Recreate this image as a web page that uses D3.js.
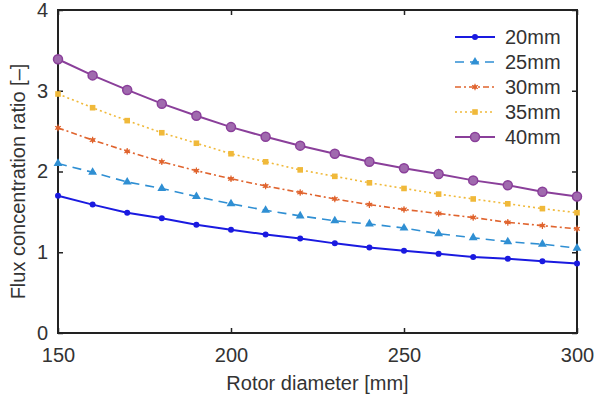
<!DOCTYPE html>
<html>
<head>
<meta charset="utf-8">
<script src="https://cdn.jsdelivr.net/npm/d3@7"></script>
<style>
  body { margin: 0; background: #fff; }
  text { font-family: "Liberation Sans", Arial, sans-serif; fill: #333; }
</style>
</head>
<body>
<div id="chart"></div>
<script>
// data
var diameters = [150, 160, 170, 180, 190, 200, 210, 220, 230, 240, 250, 260, 270, 280, 290, 300];
var series = ["20mm", "25mm", "30mm", "35mm", "40mm"];
var r20 = [1.70, 1.59, 1.49, 1.42, 1.34, 1.28, 1.22, 1.17, 1.11, 1.06, 1.02, 0.98, 0.94, 0.92, 0.89, 0.86];
var r25 = [2.10, 1.99, 1.87, 1.79, 1.69, 1.60, 1.52, 1.45, 1.39, 1.35, 1.30, 1.23, 1.18, 1.13, 1.10, 1.05];
var r30 = [2.54, 2.39, 2.25, 2.12, 2.01, 1.91, 1.82, 1.74, 1.66, 1.59, 1.53, 1.48, 1.43, 1.37, 1.33, 1.29];
var r35 = [2.96, 2.79, 2.63, 2.48, 2.35, 2.22, 2.12, 2.02, 1.94, 1.86, 1.79, 1.72, 1.66, 1.60, 1.54, 1.49];
var r40 = [3.39, 3.19, 3.01, 2.84, 2.69, 2.55, 2.43, 2.32, 2.22, 2.12, 2.04, 1.97, 1.89, 1.83, 1.75, 1.69];
var xTicks = [150, 200, 250, 300];
var yTicks = [0, 1, 2, 3, 4];

var colors = ["#1a1ae0", "#2f8fd3", "#e0642e", "#f0b93a", "#8a3f9a"];
var dashes = [null, "9,6", "6,3,2,3", "2,3", null];
var values = [r20, r25, r30, r35, r40];

var margin = {top: 10, right: 20, bottom: 68, left: 58};
var width = 597, height = 401;
var w = width - margin.left - margin.right;
var h = height - margin.top - margin.bottom;

var svg = d3.select("#chart").append("svg")
    .attr("width", width)
    .attr("height", height);

var x = d3.scaleLinear().domain([150, 300]).range([0, w]);
var y = d3.scaleLinear().domain([0, 4]).range([h, 0]);

var g = svg.append("g")
    .attr("transform", "translate(" + margin.left + "," + margin.top + ")");

// frame
g.append("rect")
    .attr("width", w)
    .attr("height", h)
    .attr("fill", "none")
    .attr("stroke", "#222")
    .attr("stroke-width", 2);

// axes with inward ticks
g.append("g")
    .attr("transform", "translate(0," + h + ")")
    .call(d3.axisBottom(x).tickValues(xTicks).tickSizeInner(-5).tickSizeOuter(0).tickPadding(15));
g.append("g")
    .call(d3.axisLeft(y).tickValues(yTicks).tickFormat(d3.format("d"))
        .tickSizeInner(-5).tickSizeOuter(0).tickPadding(10));
g.append("g")
    .call(d3.axisTop(x).tickValues(xTicks).tickSize(-5).tickSizeOuter(0).tickFormat(""));
g.append("g")
    .attr("transform", "translate(" + w + ",0)")
    .call(d3.axisRight(y).tickValues(yTicks).tickSize(-5).tickSizeOuter(0).tickFormat(""));

svg.selectAll(".domain").remove();
svg.selectAll(".tick line").attr("stroke", "#222").attr("stroke-width", 1.5);
svg.selectAll(".tick text")
    .style("font-size", "20px")
    .style("font-family", "Liberation Sans, Arial, sans-serif")
    .attr("fill", "#444");

// axis labels
svg.append("text")
    .attr("x", margin.left + w / 2)
    .attr("y", 390)
    .attr("text-anchor", "middle")
    .style("font-size", "20px")
    .text("Rotor diameter [mm]");

svg.append("text")
    .attr("transform", "translate(25," + (margin.top + h / 2 + 10) + ") rotate(-90)")
    .attr("text-anchor", "middle")
    .style("font-size", "20px")
    .text("Flux concentration ratio [–]");

// markers
function drawMarker(sel, i) {
    var c = colors[i];
    if (i === 0) {
        sel.append("circle").attr("r", 3).attr("fill", c);
    } else if (i === 1) {
        sel.append("path").attr("d", d3.symbol(d3.symbolTriangle, 34)())
            .attr("fill", c);
    } else if (i === 2) {
        sel.append("path").attr("d", d3.symbol(d3.symbolAsterisk, 30)())
            .attr("stroke", c).attr("stroke-width", 1.2).attr("fill", "none");
        sel.append("circle").attr("r", 2).attr("fill", c);
    } else if (i === 3) {
        sel.append("rect").attr("x", -2.8).attr("y", -2.8)
            .attr("width", 5.6).attr("height", 5.6).attr("fill", c);
    } else {
        sel.append("circle").attr("r", 4.5).attr("fill", "#a06aae")
            .attr("stroke", c).attr("stroke-width", 1.5);
    }
}

var line = d3.line()
    .x(function(d, k) { return x(diameters[k]); })
    .y(function(d) { return y(d); });

var plot = g.append("g").attr("id", "lines");

values.forEach(function(vals, i) {
    plot.append("path")
        .datum(vals)
        .attr("fill", "none")
        .attr("stroke", colors[i])
        .attr("stroke-width", i === 0 || i === 4 ? 2 : 1.6)
        .attr("stroke-dasharray", dashes[i])
        .attr("d", line);

    plot.selectAll(".m" + i)
        .data(vals)
        .enter().append("g")
        .attr("class", "m" + i)
        .attr("transform", function(d, k) { return "translate(" + x(diameters[k]) + "," + y(d) + ")"; })
        .each(function() { drawMarker(d3.select(this), i); });
});

// legend
var legend = svg.append("g").attr("id", "legend")
    .attr("transform", "translate(455,37)");

series.forEach(function(name, i) {
    var row = legend.append("g").attr("transform", "translate(0," + (i * 25) + ")");
    row.append("line")
        .attr("x1", 0).attr("x2", 40)
        .attr("stroke", colors[i])
        .attr("stroke-width", i === 0 || i === 4 ? 2 : 1.6)
        .attr("stroke-dasharray", dashes[i]);
    var mk = row.append("g").attr("transform", "translate(20,0)");
    drawMarker(mk, i);
    row.append("text")
        .attr("x", 50)
        .attr("y", 7)
        .style("font-size", "20px")
        .text(name);
});
</script>
</body>
</html>
